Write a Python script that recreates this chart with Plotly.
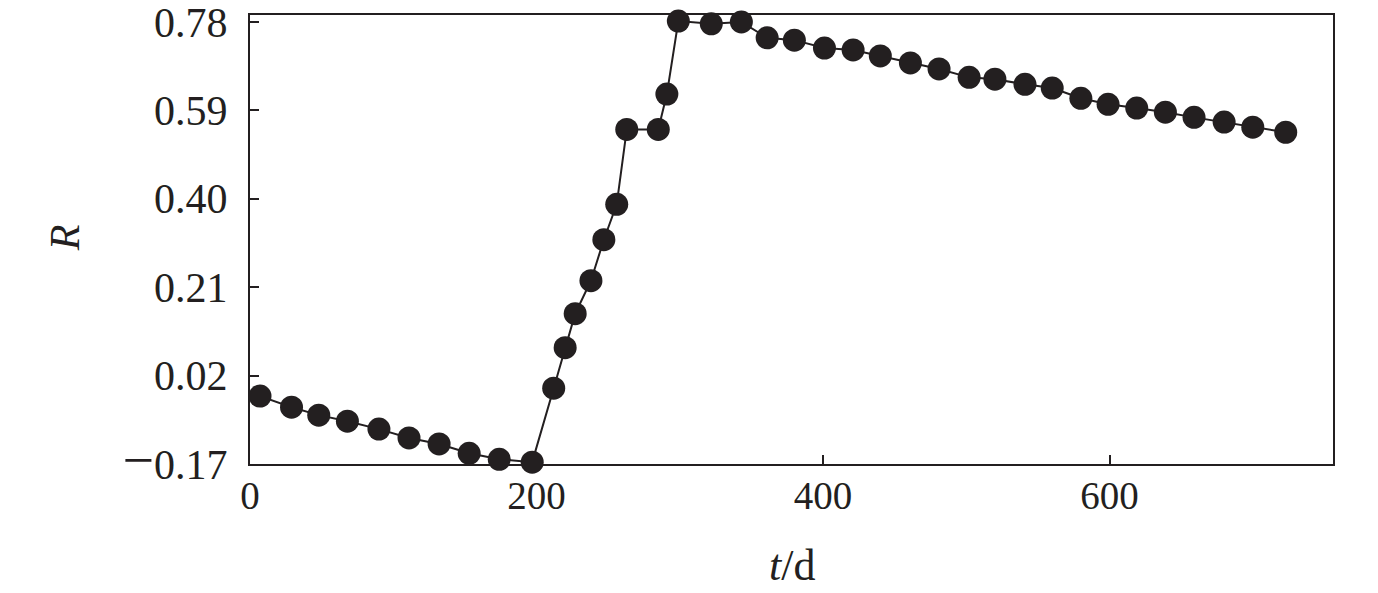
import plotly.graph_objects as go

t_days = [7, 29, 48, 68, 90, 111, 132, 153, 174, 197,
          212, 220, 227, 238, 247, 256, 263, 285, 291, 299,
          322, 343, 361, 380, 401, 421, 440, 461, 481, 502,
          520, 541, 560, 580, 599, 619, 639, 659, 680, 700, 723]
R_vals = [-0.024, -0.048, -0.065, -0.078, -0.095, -0.114, -0.127, -0.147, -0.160, -0.166,
          -0.007, 0.080, 0.153, 0.224, 0.312, 0.388, 0.549, 0.549, 0.625, 0.782,
          0.776, 0.780, 0.746, 0.741, 0.724, 0.720, 0.707, 0.692, 0.679, 0.661,
          0.657, 0.646, 0.638, 0.616, 0.603, 0.595, 0.586, 0.575, 0.565, 0.554, 0.543]

x_ticks = [0, 200, 400, 600]
y_ticks = [-0.17, 0.02, 0.21, 0.40, 0.59, 0.78]
y_ticktext = ["<span style=\"font-size:56px\">\u2212</span>0.17", "0.02", "0.21", "0.40", "0.59", "0.78"]

ink = "#231f20"
font_family = "Liberation Serif"

fig = go.Figure()
fig.add_trace(go.Scatter(
    x=t_days, y=R_vals, mode="lines+markers",
    line=dict(color=ink, width=2),
    marker=dict(color=ink, size=23),
    showlegend=False, cliponaxis=False,
))

# the page adds an 8px body margin, so the figure is 8px smaller each way
fig.update_layout(
    width=1370, height=585,
    margin=dict(l=242, r=45, t=7, b=129),
    paper_bgcolor="white", plot_bgcolor="white",
    font=dict(family=font_family, size=42, color=ink),
    annotations=[
        dict(text="<i>R</i>", xref="paper", yref="paper", x=-0.1708, y=0.503,
             xanchor="center", yanchor="middle", showarrow=False,
             textangle=-90, font=dict(size=42)),
        dict(text="<i>t</i>/d", xref="paper", yref="paper", x=0.5005, y=-0.225,
             xanchor="center", yanchor="middle", showarrow=False,
             font=dict(size=44)),
    ],
)
fig.update_xaxes(
    range=[0, 756], tickvals=x_ticks, ticktext=[str(v) for v in x_ticks],
    ticks="inside", ticklen=9, tickwidth=2, tickcolor=ink,
    showline=True, linecolor=ink, linewidth=2, mirror=True,
    showgrid=False, zeroline=False, automargin=False,
    tickfont=dict(size=39), ticklabeloverflow="allow",
    ticklabelstandoff=-4,
)
fig.update_yaxes(
    range=[-0.17, 0.795], tickvals=y_ticks, ticktext=y_ticktext,
    ticks="inside", ticklen=9, tickwidth=2, tickcolor=ink,
    showline=True, linecolor=ink, linewidth=2, mirror=True,
    showgrid=False, zeroline=False, automargin=False,
    ticklabeloverflow="allow",
    ticklabelstandoff=12,
)

fig.write_html("out.html")
